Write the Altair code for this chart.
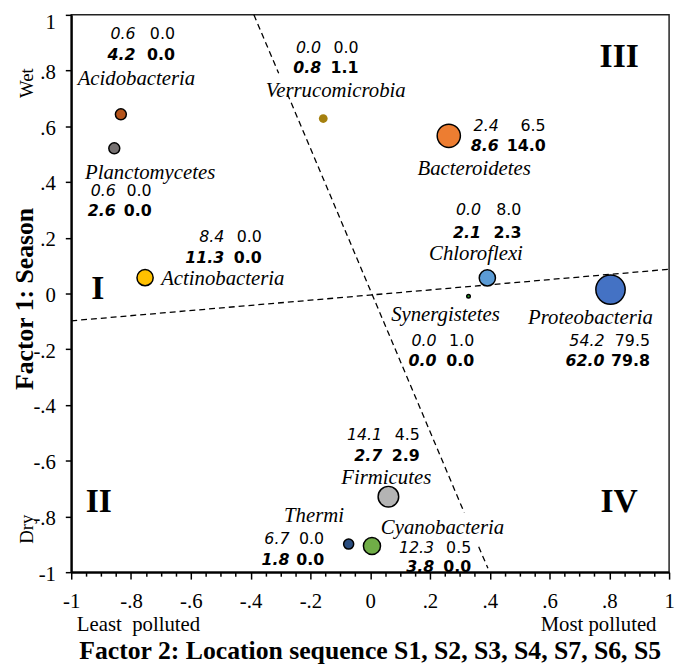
import altair as alt
import pandas as pd

# ---- data -------------------------------------------------------------
phyla = ["Acidobacteria", "Planctomycetes", "Actinobacteria", "Verrucomicrobia",
         "Bacteroidetes", "Chloroflexi", "Synergistetes", "Proteobacteria",
         "Firmicutes", "Thermi", "Cyanobacteria"]
factor2 = [-0.834, -0.856, -0.753, -0.157, 0.263, 0.392, 0.329, 0.804, 0.061, -0.072, 0.006]
factor1 = [0.643, 0.521, 0.057, 0.628, 0.566, 0.056, -0.010, 0.014, -0.729, -0.899, -0.906]
bubble_area = [123, 123, 269, 79, 551, 269, 13, 881, 434, 104, 299]
bubble_colors = ["#b5541b", "#767171", "#ffc000", "#a5800e", "#ed7d31", "#5b9bd5",
                 "#22a122", "#4472c4", "#b4b4b4", "#2a4d7f", "#70ad47"]

row1_left = [0.6, 0.6, 8.4, 0.0, 2.4, 0.0, 0.0, 54.2, 14.1, 6.7, 12.3]
row1_right = [0.0, 0.0, 0.0, 0.0, 6.5, 8.0, 1.0, 79.5, 4.5, 0.0, 0.5]
row2_left = [4.2, 2.6, 11.3, 0.8, 8.6, 2.1, 0.0, 62.0, 2.7, 1.8, 3.8]
row2_right = [0.0, 0.0, 0.0, 1.1, 14.0, 2.3, 0.0, 79.8, 2.9, 0.0, 0.0]

# annotation anchor positions (data units)
name_x = [-0.782, -0.736, -0.493, -0.115, 0.348, 0.354, 0.252, 0.737, 0.054, -0.188, 0.242]
name_y = [0.769, 0.434, 0.052, 0.727, 0.445, 0.143, -0.077, -0.087, -0.661, -0.797, -0.840]
num_xl = [-0.785, -0.851, -0.488, -0.164, 0.430, 0.371, 0.222, 0.784, 0.040, -0.270, 0.214]
num_xr = [-0.653, -0.731, -0.3625, -0.039, 0.587, 0.506, 0.348, 0.936, 0.166, -0.154, 0.338]
num_y1 = [0.930, 0.367, 0.203, 0.881, 0.600, 0.301, -0.171, -0.171, -0.507, -0.881, -0.912]
num_y2 = [0.857, 0.297, 0.126, 0.808, 0.528, 0.217, -0.241, -0.241, -0.584, -0.958, -0.980]

# dashed divider segments
seg_x1 = [-1.0, -0.389, -0.277, 0.363]
seg_y1 = [-0.098, 1.0, 0.717, -0.909]
seg_x2 = [1.0, -0.306, 0.315, 0.394]
seg_y2 = [0.087, 0.79, -0.787, -0.986]

quadrants = ["I", "II", "III", "IV"]
quad_x = [-0.911, -0.908, 0.833, 0.833]
quad_y = [0.017, -0.748, 0.850, -0.748]

side_labels = ["Wet", "Dry"]
side_x = [-1.149, -1.149]
side_y = [0.755, -0.846]

pollution_labels = ["Least\u00a0\u00a0polluted", "Most polluted"]
pollution_x = [-0.775, 0.764]
pollution_y = [-1.188, -1.188]

x_ticks = [round(-1 + 0.05 * i, 2) for i in range(41)]
y_ticks = [round(-1 + 0.2 * i, 1) for i in range(11)]

# ---- tables -----------------------------------------------------------
fmt = lambda v: f"{v:.1f}"
pts = pd.DataFrame({"phylum": phyla, "x": factor2, "y": factor1, "area": bubble_area})
labels = pd.DataFrame({
    "phylum": phyla, "x": name_x, "y": name_y,
    "xl": num_xl, "xr": num_xr, "y1": num_y1, "y2": num_y2,
    "a": [fmt(v) for v in row1_left], "b": [fmt(v) for v in row1_right],
    "c": [fmt(v) for v in row2_left], "d": [fmt(v) for v in row2_right],
})
segs = pd.DataFrame({"x": seg_x1, "y": seg_y1, "x2": seg_x2, "y2": seg_y2})
quads = pd.DataFrame({"t": quadrants, "x": quad_x, "y": quad_y})
sides = pd.DataFrame({"t": side_labels, "x": side_x, "y": side_y})
polls = pd.DataFrame({"t": pollution_labels, "x": pollution_x, "y": pollution_y})

XS = alt.Scale(domain=[-1, 1], nice=False, zero=False)
YS = alt.Scale(domain=[-1, 1], nice=False, zero=False)

major = "abs(datum.value*5 - round(datum.value*5)) < 0.001"
lab = ("(" + major + ") ? ((datum.value < -0.001 ? '-' : '') + "
       "replace(format(abs(datum.value), '.1~f'), '0.', '.')) : ''")

x_axis = alt.Axis(values=x_ticks, labelExpr=lab, grid=False,
                  tickSize={"condition": {"test": major, "value": 7}, "value": 4},
                  tickWidth=1.5, tickColor="black", domainColor="black", domainWidth=2.2,
                  labelFont="Liberation Serif", labelFontSize=21, labelColor="black",
                  labelPadding=12, labelOverlap=False, labelFlush=False,
                  title="Factor 2: Location sequence S1, S2, S3, S4, S7, S6, S5",
                  titleFont="Liberation Serif", titleFontSize=26, titleFontWeight="bold",
                  titleColor="black", titleX=302, titleY=79, titleBaseline="middle",
                  titleAlign="center")
y_axis = alt.Axis(values=y_ticks, labelExpr=lab, grid=False, tickSize=6,
                  tickWidth=1.5, tickColor="black", domainColor="black", domainWidth=2.2,
                  labelFont="Liberation Serif", labelFontSize=21, labelColor="black",
                  labelPadding=10, labelOverlap=False, labelFlush=False,
                  labelOffset={"condition": {"test": "datum.value > 0.99", "value": 8}, "value": 2},
                  title="Factor 1: Season",
                  titleFont="Liberation Serif", titleFontSize=26, titleFontWeight="bold",
                  titleColor="black", titleX=-47, titleY=287, titleAngle=270,
                  titleBaseline="middle", titleAlign="center")


def enc(xf="x", yf="y"):
    return dict(
        x=alt.X(xf, type="quantitative", scale=XS, axis=x_axis),
        y=alt.Y(yf, type="quantitative", scale=YS, axis=y_axis),
    )


lines = alt.Chart(segs).mark_rule(color="black", strokeWidth=1.3, strokeDash=[6, 4]).encode(
    **enc(), x2="x2:Q", y2="y2:Q",
)

points = alt.Chart(pts).mark_point(filled=True, shape="circle", opacity=1, stroke="black").encode(
    **enc(),
    fill=alt.Fill("phylum:N", scale=alt.Scale(domain=phyla, range=bubble_colors), legend=None),
    size=alt.Size("area:Q", scale=None, legend=None),
    strokeWidth=alt.condition(alt.datum.phylum == "Verrucomicrobia", alt.value(0), alt.value(1.5)),
)


def txt(df, xf, yf, tf, **kw):
    return alt.Chart(df).mark_text(baseline="middle", color="black", **kw).encode(
        **enc(xf, yf), text=alt.Text(tf, type="nominal"),
    )


NUMF = "DejaVu Sans"
NS = 16
n1 = txt(labels, "xl", "y1", "a", font=NUMF, fontSize=NS, fontStyle="italic", align="right")
n2 = txt(labels, "xr", "y1", "b", font=NUMF, fontSize=NS, align="right")
n3 = txt(labels, "xl", "y2", "c", font=NUMF, fontSize=NS, fontStyle="italic", fontWeight="bold", align="right")
n4 = txt(labels, "xr", "y2", "d", font=NUMF, fontSize=NS, fontWeight="bold", align="right")
names = txt(labels, "x", "y", "phylum", font="Liberation Serif", fontSize=21,
            fontStyle="italic", align="center")
quad_t = txt(quads, "x", "y", "t", font="Liberation Serif", fontSize=34, fontWeight="bold", align="center")
side_t = txt(sides, "x", "y", "t", font="Liberation Serif", fontSize=19, angle=270, align="center")
poll_t = txt(polls, "x", "y", "t", font="Liberation Serif", fontSize=21, align="center")

chart = alt.layer(lines, points, n1, n2, n3, n4, names, quad_t, side_t, poll_t).properties(
    width=605, height=564,
    autosize=alt.AutoSizeParams(type="none"),
    padding={"left": 64, "top": 3, "right": 8, "bottom": 91},
    background="white",
).configure_view(stroke="#222222", strokeWidth=1.5)

chart.save("out.html", embed_options={"renderer": "svg", "actions": False})
